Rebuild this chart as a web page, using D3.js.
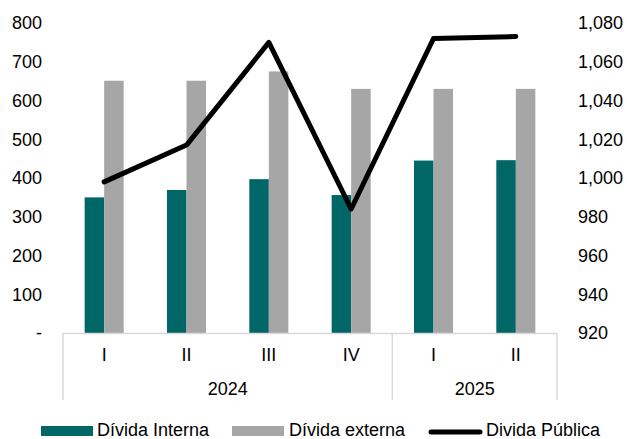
<!DOCTYPE html>
<html>
<head>
<meta charset="utf-8">
<script src="https://cdn.jsdelivr.net/npm/d3@7"></script>
<style>
  body { margin: 0; background: #fff; }
  svg { display: block; font-family: "Liberation Sans", Arial, sans-serif; }
</style>
</head>
<body>
<svg id="chart" width="627" height="439"></svg>
<script>
// quarters and the year each one belongs to
const quarters = ["I", "II", "III", "IV", "I", "II"];
const years = ["2024", "2024", "2024", "2024", "2025", "2025"];
const yearGroups = [{ year: "2024", n: 4 }, { year: "2025", n: 2 }];

// values
const interna = [350, 369, 397, 356, 445, 446];
const externa = [651, 651, 675, 630, 630, 630];
const publica = [998, 1017, 1070, 984, 1072, 1073];

const leftTicks = [0, 100, 200, 300, 400, 500, 600, 700, 800];
const rightTicks = [920, 940, 960, 980, 1000, 1020, 1040, 1060, 1080];

const TEAL = "#006666";
const GREY = "#a6a6a6";
const AXIS_GREY = "#d9d9d9";
const FONT_SIZE = 18;

const svg = d3.select("#chart");

const plot = { left: 63, right: 557, top: 23, bottom: 333 };
const keys = quarters.map((q, i) => i); // index keys since quarter names repeat

const x0 = d3
  .scaleBand()
  .domain(keys)
  .range([plot.left, plot.right])
  .paddingInner(0.526)
  .paddingOuter(0.263);

const x1 = d3
  .scaleBand()
  .domain(["interna", "externa"])
  .range([0, x0.bandwidth()]);

const yL = d3.scaleLinear().domain([0, 800]).range([plot.bottom, plot.top]);
const yR = d3.scaleLinear().domain([920, 1080]).range([plot.bottom, plot.top]);

// bars
const rows = keys.map((k) => ({ k, interna: interna[k], externa: externa[k] }));
const groups = svg
  .append("g")
  .selectAll("g")
  .data(rows)
  .enter()
  .append("g")
  .attr("transform", (d) => `translate(${x0(d.k)},0)`);

groups
  .selectAll("rect")
  .data((d) => [
    { s: "interna", v: d.interna },
    { s: "externa", v: d.externa },
  ])
  .enter()
  .append("rect")
  .attr("x", (d) => x1(d.s))
  .attr("width", x1.bandwidth())
  .attr("y", (d) => yL(d.v))
  .attr("height", (d) => yL(0) - yL(d.v))
  .attr("fill", (d) => (d.s === "interna" ? TEAL : GREY));

// left axis, no domain line
const leftAxis = svg
  .append("g")
  .attr("transform", `translate(${plot.left - 21},0)`)
  .call(
    d3
      .axisLeft(yL)
      .tickValues(leftTicks)
      .tickSize(0)
      .tickPadding(0)
      .tickFormat((d) => (d === 0 ? "-" : d3.format("d")(d)))
  );
leftAxis.select(".domain").remove();
leftAxis
  .selectAll("text")
  .attr("font-size", FONT_SIZE)
  .attr("font-family", "Liberation Sans, Arial, sans-serif")
  .attr("fill", "#000");

const rightAxis = svg
  .append("g")
  .attr("transform", `translate(${plot.right + 21},0)`)
  .call(
    d3
      .axisRight(yR)
      .tickValues(rightTicks)
      .tickSize(0)
      .tickPadding(0)
      .tickFormat(d3.format(","))
  );
rightAxis.select(".domain").remove();
rightAxis
  .selectAll("text")
  .attr("font-size", FONT_SIZE)
  .attr("font-family", "Liberation Sans, Arial, sans-serif")
  .attr("fill", "#000");

// category axis: base line + group separators
const axisG = svg.append("g");
axisG
  .append("line")
  .attr("x1", plot.left)
  .attr("x2", plot.right)
  .attr("y1", plot.bottom + 0.5)
  .attr("y2", plot.bottom + 0.5)
  .attr("stroke", AXIS_GREY)
  .attr("stroke-width", 1.5);

let sepIdx = [0];
yearGroups.reduce((acc, g) => {
  sepIdx.push(acc + g.n);
  return acc + g.n;
}, 0);
const step = x0.step();
const edge = (i) => plot.left + i * step;

axisG
  .selectAll("line.sep")
  .data(sepIdx)
  .enter()
  .append("line")
  .attr("class", "sep")
  .attr("x1", (i) => edge(i))
  .attr("x2", (i) => edge(i))
  .attr("y1", plot.bottom)
  .attr("y2", 400)
  .attr("stroke", AXIS_GREY)
  .attr("stroke-width", 1.5);

axisG
  .selectAll("text.q")
  .data(keys)
  .enter()
  .append("text")
  .attr("class", "q")
  .attr("x", (k) => x0(k) + x0.bandwidth() / 2)
  .attr("y", 361)
  .attr("text-anchor", "middle")
  .attr("font-size", FONT_SIZE)
  .text((k) => quarters[k]);

let start = 0;
yearGroups.forEach((g) => {
  axisG
    .append("text")
    .attr("x", (edge(start) + edge(start + g.n)) / 2)
    .attr("y", 395)
    .attr("text-anchor", "middle")
    .attr("font-size", FONT_SIZE)
    .text(g.year);
  start += g.n;
});

// public debt line on the right axis
const line = d3
  .line()
  .x((d, i) => x0(i) + x0.bandwidth() / 2)
  .y((d) => yR(d));

svg
  .append("path")
  .datum(publica)
  .attr("d", line)
  .attr("fill", "none")
  .attr("stroke", "#000")
  .attr("stroke-width", 5)
  .attr("stroke-linejoin", "round")
  .attr("stroke-linecap", "round");

// legend
const legend = svg.append("g").attr("font-size", FONT_SIZE);
const legendItems = [
  { label: "Dívida Interna", kind: "rect", color: TEAL, x: 41, tx: 97 },
  { label: "Dívida externa", kind: "rect", color: GREY, x: 232, tx: 289 },
  { label: "Divida Pública", kind: "line", color: "#000", x: 429, tx: 486 },
];
legendItems.forEach((it) => {
  if (it.kind === "rect") {
    legend
      .append("rect")
      .attr("x", it.x)
      .attr("y", 426)
      .attr("width", 52)
      .attr("height", 10)
      .attr("fill", it.color);
  } else {
    legend
      .append("line")
      .attr("x1", it.x + 2)
      .attr("x2", it.x + 51)
      .attr("y1", 432)
      .attr("y2", 432)
      .attr("stroke", it.color)
      .attr("stroke-width", 5)
      .attr("stroke-linecap", "round");
  }
  legend
    .append("text")
    .attr("x", it.tx)
    .attr("y", 436)
    .text(it.label);
});
</script>
</body>
</html>
